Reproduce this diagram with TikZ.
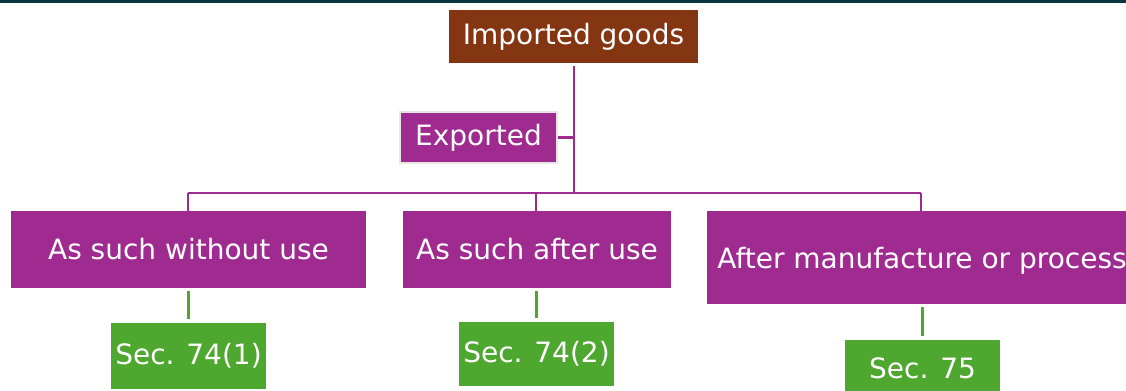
\documentclass[tikz,border=0pt]{standalone}
\usepackage{fontspec}
\setmainfont{DejaVu Sans}
\definecolor{brownbox}{HTML}{843511}
\definecolor{purplebox}{HTML}{A02B90}
\definecolor{greenbox}{HTML}{4EA72E}
\definecolor{topbar}{HTML}{0B3440}
\begin{document}
\begin{tikzpicture}[x=0.75pt,y=-0.75pt,
  box/.style={rectangle, inner sep=0pt, text=white, font=\fontsize{21}{25}\selectfont},
  brownb/.style={box, fill=brownbox},
  purpleb/.style={box, fill=purplebox},
  greenb/.style={box, fill=greenbox},
  pline/.style={draw=purplebox, line width=2pt},
  gline/.style={draw=greenbox, line width=2.2pt}]
\useasboundingbox (0,0) rectangle (1126,390);
\fill[topbar] (0,0) rectangle (1126,3);
% nodes
\node[brownb, minimum width=249*0.75pt, minimum height=53*0.75pt] (imp) at (573.5,36.5) {Imported goods};
\node[purpleb, draw=black!10, line width=1.5pt, minimum width=157*0.75pt, minimum height=51*0.75pt] (exp) at (478.5,137.5) {Exported};
\node[purpleb, minimum width=355*0.75pt, minimum height=77*0.75pt] (b1) at (188.5,249.5) {As such without use};
\node[purpleb, minimum width=268*0.75pt, minimum height=77*0.75pt] (b2) at (537,249.5) {As such after use};
\node[purpleb, minimum width=430*0.75pt, minimum height=93*0.75pt, text depth=0pt] (b3) at (922,257.5) {After manufacture or process};
\node[greenb, minimum width=155*0.75pt, minimum height=66*0.75pt] (s1) at (188.5,356) {Sec. 74(1)};
\node[greenb, minimum width=155*0.75pt, minimum height=64*0.75pt] (s2) at (536.5,354) {Sec. 74(2)};
\node[greenb, minimum width=155*0.75pt, minimum height=56*0.75pt] (s3) at (922.5,368) {Sec. 75};
% connectors
\coordinate (top) at (574,66);
\coordinate (mid) at (574,193);
\coordinate (ej) at (574,137.5);
\coordinate (h1) at (188,193);
\coordinate (h2) at (536,193);
\coordinate (h3) at (921,193);
\draw[pline] (top) -- (mid);
\draw[pline] (exp.east) -- (ej);
\draw[pline] (h1) -- (h3);
\draw[pline] (h1) -- (h1 |- b1.north);
\draw[pline] (h2) -- (h2 |- b2.north);
\draw[pline] (h3) -- (h3 |- b3.north);
\draw[gline] ([yshift=-2.25pt]b1.south -| s1.north) -- ([yshift=3pt]s1.north);
\draw[gline] ([yshift=-2.25pt]b2.south -| s2.north) -- ([yshift=3pt]s2.north);
\draw[gline] ([yshift=-2.25pt]b3.south -| s3.north) -- ([yshift=3pt]s3.north);
\end{tikzpicture}
\end{document}
